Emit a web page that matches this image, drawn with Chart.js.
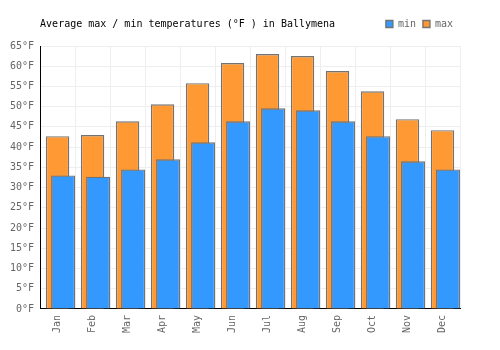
<!DOCTYPE html>
<html>
<head>
<meta charset="utf-8">
<script src="https://cdn.jsdelivr.net/npm/chart.js@4/dist/chart.umd.min.js"></script>
<style>
  body { margin: 0; background: #fff; }
  #wrap { width: 500px; height: 350px; }
</style>
</head>
<body>
<div id="wrap"><canvas id="tempChart"></canvas></div>
<script>
const months = ['Jan', 'Feb', 'Mar', 'Apr', 'May', 'Jun', 'Jul', 'Aug', 'Sep', 'Oct', 'Nov', 'Dec'];
const minTemps = [33.0, 32.7, 34.5, 37.0, 41.2, 46.4, 49.6, 49.1, 46.4, 42.7, 36.5, 34.5];
const maxTemps = [42.7, 43.0, 46.4, 50.6, 55.8, 60.8, 63.0, 62.5, 58.8, 53.8, 46.9, 44.2];
const yTicks = [0, 5, 10, 15, 20, 25, 30, 35, 40, 45, 50, 55, 60, 65];
const titleText = 'Average max / min temperatures (°F ) in Ballymena';

const mono = 'DejaVu Sans Mono';

// min bars sit a bit right of the max bars, so they go on a hidden linear axis
const minShift = 0.16;

// title shares the row with the legend
const titleRow = {
  id: 'titleRow',
  beforeInit(chart) {
    // extra room under the legend row
    const fit = chart.legend.fit;
    chart.legend.fit = function () {
      fit.call(this);
      this.height += 7;
    };
  },
  afterDraw(chart) {
    const ctx = chart.ctx;
    const item = chart.legend.legendHitBoxes[0];
    ctx.save();
    ctx.font = '10px "' + mono + '"';
    ctx.fillStyle = '#000';
    ctx.textBaseline = 'middle';
    ctx.fillText(titleText, chart.chartArea.left, item.top + item.height / 2);
    ctx.restore();
  }
};

new Chart('tempChart', {
  type: 'bar',
  data: {
    labels: months,
    datasets: [{
      label: 'min',
      data: minTemps.map((v, i) => ({ x: i + minShift, y: v })),
      xAxisID: 'x2',
      grouped: false,
      backgroundColor: '#3399ff',
      borderColor: '#737373',
      borderWidth: 1.4,
      barPercentage: 0.69,
      categoryPercentage: 1
    }, {
      label: 'max',
      data: maxTemps,
      xAxisID: 'x',
      grouped: false,
      backgroundColor: '#ff9933',
      borderColor: '#737373',
      borderWidth: 1.4,
      barPercentage: 0.67,
      categoryPercentage: 1
    }]
  },
  options: {
    responsive: true,
    maintainAspectRatio: false,
    animation: false,
    layout: { padding: { top: 12, right: 40, bottom: 11, left: 4 } },
    plugins: {
      title: { display: false },
      tooltip: { enabled: false },
      legend: {
        position: 'top',
        align: 'end',
        labels: {
          boxWidth: 7,
          boxHeight: 7,
          padding: 7,
          color: '#666',
          font: { family: mono, size: 10 }
        }
      }
    },
    scales: {
      x: {
        type: 'category',
        offset: true,
        grid: { color: '#eeeeee', drawTicks: false, offset: true },
        border: { color: '#000', width: 1 },
        ticks: {
          color: '#666',
          font: { family: mono, size: 10 },
          minRotation: 90,
          maxRotation: 90,
          padding: 6
        }
      },
      x2: {
        type: 'linear',
        display: false,
        offset: false,
        min: -0.5,
        max: 11.5
      },
      y: {
        min: 0,
        max: 65,
        afterBuildTicks(axis) { axis.ticks = yTicks.map(v => ({ value: v })); },
        grid: { color: '#eeeeee', drawTicks: false },
        border: { color: '#000', width: 1 },
        ticks: {
          color: '#666',
          font: { family: mono, size: 10 },
          padding: 6,
          callback: v => v + '°F'
        }
      }
    }
  },
  plugins: [titleRow]
});
</script>
</body>
</html>
